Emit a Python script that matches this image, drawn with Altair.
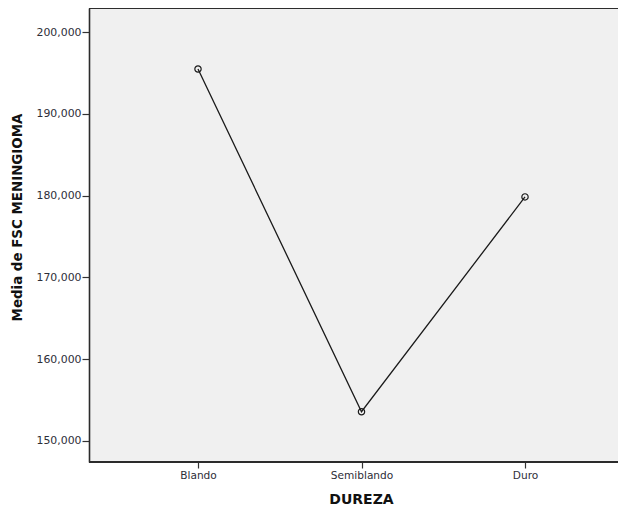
import altair as alt
import pandas as pd

categories = ["Blando", "Semiblando", "Duro"]
means = [195.50, 153.55, 179.85]

df = pd.DataFrame({"DUREZA": categories, "media": means})

W, H = 529, 454
label_color = "#2e2e38"

x_enc = alt.X(
    "DUREZA:N",
    sort=categories,
    scale=alt.Scale(type="point", range=[109, 436], padding=0),
    axis=alt.Axis(
        title="DUREZA",
        titleFont="DejaVu Sans", titleFontSize=14, titleFontWeight="bold", titleColor="#111111",
        titleX=272, titleY=37, titleAlign="center", titleBaseline="middle", titleAnchor="start",
        labelFont="DejaVu Sans", labelFontSize=10.6, labelColor=label_color, labelAngle=0,
        labelPadding=2, tickSize=6, tickColor="#333333", tickWidth=1.2,
        domain=False, grid=False,
    ),
)

y_enc = alt.Y(
    "media:Q",
    scale=alt.Scale(domain=[147.40, 202.97], nice=False, zero=False),
    axis=alt.Axis(
        title="Media de FSC MENINGIOMA",
        titleFont="DejaVu Sans", titleFontSize=13.4, titleFontWeight="bold", titleColor="#111111",
        titleX=-72, titleY=209, titleAlign="center", titleBaseline="middle", titleAngle=270,
        titleAnchor="start",
        values=[150, 160, 170, 180, 190, 200],
        labelExpr="replace(format(datum.value, '.3f'), '.', ',')",
        labelFont="DejaVu Sans", labelFontSize=10.9, labelColor=label_color,
        labelPadding=1, tickSize=7, tickColor="#333333", tickWidth=1.2,
        domainColor="#2b2b2b", domainWidth=1.6, grid=False,
    ),
)

line = alt.Chart(df).mark_line(color="#1a1a1a", strokeWidth=1.3).encode(x=x_enc, y=y_enc)
pts = alt.Chart(df).mark_point(
    shape="circle", filled=False, color="#1a1a1a", size=40, strokeWidth=1.2, opacity=1
).encode(x=x_enc, y=y_enc)

top_border = alt.Chart(df).mark_rule(color="#2b2b2b", strokeWidth=1.6).encode(
    x=alt.value(0), x2=alt.value(W), y=alt.value(0)
)
bottom_border = alt.Chart(df).mark_rule(color="#2b2b2b", strokeWidth=1.8).encode(
    x=alt.value(0), x2=alt.value(W), y=alt.value(H)
)

chart = (
    alt.layer(line, pts, top_border, bottom_border)
    .properties(
        width=W,
        height=H,
        autosize=alt.AutoSizeParams(type="none"),
        padding={"left": 81, "top": 0, "right": 0, "bottom": 46},
        background="white",
    )
    .configure_view(fill="#f0f0f0", stroke=None)
)

chart.save("out.html", embed_options={"renderer": "svg", "actions": False})
